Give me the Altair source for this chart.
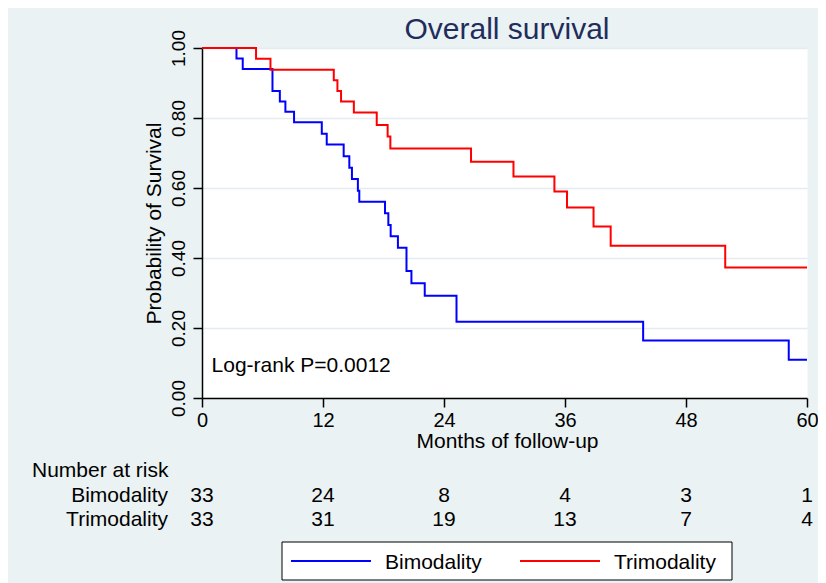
import altair as alt
import pandas as pd

FONT = "Liberation Sans"

groups = ["Bimodality", "Trimodality"]
colors = ["#0000FF", "#FF0000"]

bi_months = [0, 3.42, 4.04, 6.99, 7.72, 8.27, 9.13, 11.88, 12.37, 14.05, 14.61, 14.87,
             15.46, 15.60, 18.15, 18.48, 18.71, 19.43, 20.28, 20.77, 22.09, 25.24,
             43.75, 58.19, 60]
bi_surv = [1.0, 0.970, 0.940, 0.877, 0.847, 0.818, 0.788, 0.755, 0.724, 0.691, 0.658, 0.626,
           0.592, 0.561, 0.528, 0.494, 0.462, 0.429, 0.363, 0.328, 0.292, 0.218,
           0.164, 0.109, 0.109]

tri_months = [0, 5.36, 6.79, 13.07, 13.43, 13.79, 15.06, 17.33, 18.41, 18.68, 26.68,
              30.89, 34.95, 36.20, 38.83, 40.53, 51.89, 60]
tri_surv = [1.0, 0.969, 0.938, 0.908, 0.877, 0.847, 0.816, 0.780, 0.747, 0.713, 0.675,
            0.633, 0.590, 0.544, 0.490, 0.435, 0.373, 0.373]

risk_months = [0, 12, 24, 36, 48, 60]
risk_bi = [33, 24, 8, 4, 3, 1]
risk_tri = [33, 31, 19, 13, 7, 4]

x_ticks = [0, 12, 24, 36, 48, 60]
y_ticks = [0, 0.2, 0.4, 0.6, 0.8, 1.0]

curves = pd.DataFrame({
    "month": bi_months + tri_months,
    "surv": bi_surv + tri_surv,
    "group": ["Bimodality"] * len(bi_months) + ["Trimodality"] * len(tri_months),
})

W, H = 605, 350

x_enc = alt.X(
    "month:Q",
    scale=alt.Scale(domain=[0, 60], nice=False, zero=False),
    axis=alt.Axis(values=x_ticks, title="Months of follow-up", grid=False,
                  labelFontSize=20, labelPadding=3, tickSize=9, labelFlush=False,
                  labelOverlap=False, titleFontSize=21, titleX=305, titleY=49,
                  titleAlign="center", titleBaseline="alphabetic"),
)
y_enc = alt.Y(
    "surv:Q",
    scale=alt.Scale(domain=[0, 1], nice=False),
    axis=alt.Axis(values=y_ticks, format=".2f", title="Probability of Survival",
                  grid=True, gridColor="#E4ECEF", gridWidth=1.5,
                  labelFontSize=19, labelAngle=270, labelAlign="center",
                  labelBaseline="alphabetic", labelPadding=9, tickSize=9,
                  labelFlush=False, labelOverlap=False,
                  titleFontSize=21, titleAngle=270, titleX=-42, titleY=175,
                  titleAlign="center", titleBaseline="alphabetic"),
)

lines = alt.Chart(curves).mark_line(interpolate="step-after", strokeWidth=2).encode(
    x=x_enc,
    y=y_enc,
    color=alt.Color("group:N", scale=alt.Scale(domain=groups, range=colors), legend=None),
    detail="group:N",
)

def txt(**kw):
    base = dict(baseline="alphabetic", fontSize=21, font=FONT, color="black")
    base.update(kw)
    return base

logrank = alt.Chart(pd.DataFrame({"month": [0.95], "surv": [0.075],
                                  "label": ["Log-rank P=0.0012"]})).mark_text(
    **txt(align="left")
).encode(x=x_enc, y=y_enc, text="label:N")

title = alt.Chart(pd.DataFrame({"label": ["Overall survival"]})).mark_text(
    **txt(align="center", fontSize=30, color="#1F2D5C")
).encode(x=alt.value(305), y=alt.value(-9), text="label:N")

risk_bi_df = pd.DataFrame({"month": risk_months, "n": risk_bi})
risk_tri_df = pd.DataFrame({"month": risk_months, "n": risk_tri})

risk_bi_txt = alt.Chart(risk_bi_df).mark_text(**txt(align="center")).encode(
    x=x_enc, y=alt.value(454), text="n:Q")
risk_tri_txt = alt.Chart(risk_tri_df).mark_text(**txt(align="center")).encode(
    x=x_enc, y=alt.value(478), text="n:Q")

hdr = alt.Chart(pd.DataFrame({"label": ["Number at risk"]})).mark_text(
    **txt(align="left")).encode(x=alt.value(-170), y=alt.value(429), text="label:N")
lab_bi = alt.Chart(pd.DataFrame({"label": [groups[0]]})).mark_text(
    **txt(align="right")).encode(x=alt.value(-34), y=alt.value(454), text="label:N")
lab_tri = alt.Chart(pd.DataFrame({"label": [groups[1]]})).mark_text(
    **txt(align="right")).encode(x=alt.value(-34), y=alt.value(478), text="label:N")

# manual legend
one = pd.DataFrame({"k": [0]})
leg_box = alt.Chart(one).mark_rect(fill="white", stroke="black", strokeWidth=1).encode(
    x=alt.value(80), x2=alt.value(530), y=alt.value(494), y2=alt.value(532))
leg_bi_line = alt.Chart(one).mark_rule(color=colors[0], strokeWidth=2).encode(
    x=alt.value(89), x2=alt.value(169), y=alt.value(513))
leg_tri_line = alt.Chart(one).mark_rule(color=colors[1], strokeWidth=2).encode(
    x=alt.value(318), x2=alt.value(398), y=alt.value(513))
leg_bi_lab = alt.Chart(pd.DataFrame({"label": [groups[0]]})).mark_text(
    **txt(align="left")).encode(x=alt.value(183), y=alt.value(520.5), text="label:N")
leg_tri_lab = alt.Chart(pd.DataFrame({"label": [groups[1]]})).mark_text(
    **txt(align="left")).encode(x=alt.value(412), y=alt.value(520.5), text="label:N")

chart = alt.layer(
    lines, logrank, title, risk_bi_txt, risk_tri_txt, hdr, lab_bi, lab_tri,
    leg_box, leg_bi_line, leg_tri_line, leg_bi_lab, leg_tri_lab,
).properties(
    width=W,
    height=H,
    padding={"left": 194, "top": 40, "right": 11, "bottom": 185},
    autosize=alt.AutoSizeParams(type="none"),
).configure(
    background="#EAF2F3",
).configure_view(
    fill="white", stroke="transparent",
).configure_axis(
    domainColor="black", tickColor="black", labelColor="black", titleColor="black",
    labelFont=FONT, titleFont=FONT, titleFontWeight="normal",
    domainWidth=1.5, tickWidth=1.5,
)

chart.save("out.html", embed_options={"renderer": "svg", "actions": False})
